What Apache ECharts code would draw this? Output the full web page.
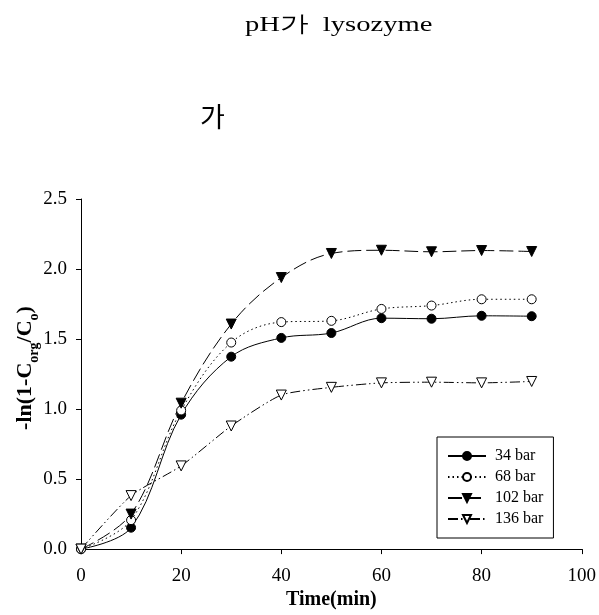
<!DOCTYPE html>
<html>
<head>
<meta charset="utf-8">
<script src="https://cdn.jsdelivr.net/npm/echarts@6/dist/echarts.min.js"></script>
<style>
  html, body { margin: 0; padding: 0; background: #fff; }
  #chart { width: 599px; height: 615px; }
</style>
</head>
<body>
<div id="chart"></div>
<script>
// 데이터
var times = [0, 10, 20, 30, 40, 50, 60, 70, 80, 90];
var bar34 = [0, 0.153, 0.96, 1.374, 1.508, 1.543, 1.649, 1.645, 1.666, 1.663];
var bar68 = [0, 0.207, 0.99, 1.475, 1.621, 1.63, 1.715, 1.739, 1.784, 1.784];
var bar102 = [0, 0.25, 1.042, 1.607, 1.939, 2.111, 2.134, 2.123, 2.132, 2.125];
var bar136 = [0, 0.382, 0.594, 0.879, 1.10, 1.155, 1.187, 1.192, 1.187, 1.197];
var seriesNames = ['34 bar', '68 bar', '102 bar', '136 bar'];

function pairs(ys) {
    return times.map(function (t, i) { return [t, ys[i]]; });
}

var serif = '"Liberation Serif", "Times New Roman", serif';
var chart = echarts.init(document.getElementById('chart'));

var option = {
    animation: false,
    backgroundColor: '#fff',
    legend: {
        orient: 'vertical',
        left: 437, top: 437,
        padding: [11, 10, 11, 10],
        borderColor: '#000', borderWidth: 1,
        itemWidth: 38, itemHeight: 10, itemGap: 5,
        textStyle: { fontFamily: serif, fontSize: 16, color: '#000', lineHeight: 16, padding: [0, 0, 0, 4] },
        data: seriesNames
    },
    grid: { left: 81, right: 16, top: 199, bottom: 62 },
    xAxis: {
        type: 'value', min: 0, max: 100, interval: 20,
        name: 'Time(min)', nameLocation: 'middle', nameGap: 37,
        nameTextStyle: { fontFamily: serif, fontSize: 20, fontWeight: 'bold', color: '#000' },
        axisLine: { lineStyle: { color: '#000' } },
        axisTick: { inside: false, length: 5, lineStyle: { color: '#000' } },
        axisLabel: { fontFamily: serif, fontSize: 19, color: '#000', margin: 17 },
        splitLine: { show: false }
    },
    yAxis: {
        type: 'value', min: 0, max: 2.5, interval: 0.5,
        axisLine: { show: true, lineStyle: { color: '#000' } },
        axisTick: { show: true, inside: false, length: 5, lineStyle: { color: '#000' } },
        axisLabel: {
            fontFamily: serif, fontSize: 19, color: '#000', margin: 14,
            formatter: function (v) { return v.toFixed(1); }
        },
        splitLine: { show: false }
    },
    graphic: [
        {
            type: 'text',
            x: 245, y: 14,
            scaleX: 1.3,
            style: {
                text: 'pH가  lysozyme',
                font: '22px ' + serif,
                fill: '#000',
                align: 'left',
                verticalAlign: 'top'
            }
        },
        {
            type: 'text',
            x: 200, y: 117,
            style: {
                text: '가',
                font: '27px "Noto Sans CJK KR", sans-serif',
                fill: '#000',
                align: 'left',
                verticalAlign: 'middle'
            }
        },
        {
            type: 'text',
            x: 25, y: 368,
            rotation: Math.PI / 2,
            style: {
                text: '-ln(1-C{sub|org}/C{sub|o})',
                font: 'bold 22px ' + serif,
                fill: '#000',
                align: 'center',
                verticalAlign: 'middle',
                rich: {
                    sub: { fontFamily: serif, fontSize: 14, fontWeight: 'bold', verticalAlign: 'bottom', padding: [0, 0, -5, 0] }
                }
            }
        }
    ],
    series: [
        {
            name: '34 bar', type: 'line', data: pairs(bar34), smooth: 0.35,
            symbol: 'circle', symbolSize: 9,
            itemStyle: { color: '#000', borderColor: '#000', borderWidth: 1 },
            lineStyle: { color: '#000', width: 1, type: 'solid' }
        },
        {
            name: '68 bar', type: 'line', data: pairs(bar68), smooth: 0.35,
            symbol: 'circle', symbolSize: 9,
            itemStyle: { color: '#fff', borderColor: '#000', borderWidth: 1 },
            lineStyle: { color: '#000', width: 1, type: [1.5, 3] }
        },
        {
            name: '102 bar', type: 'line', data: pairs(bar102), smooth: 0.35,
            symbol: 'triangle', symbolRotate: 180, symbolSize: 10,
            itemStyle: { color: '#000', borderColor: '#000', borderWidth: 1 },
            lineStyle: { color: '#000', width: 1, type: [14, 5] }
        },
        {
            name: '136 bar', type: 'line', data: pairs(bar136), smooth: 0.2,
            symbol: 'triangle', symbolRotate: 180, symbolSize: 10,
            itemStyle: { color: '#fff', borderColor: '#000', borderWidth: 1 },
            lineStyle: { color: '#000', width: 1, type: [10, 3, 1.5, 3, 1.5, 3] }
        }
    ]
};

chart.setOption(option);
</script>
</body>
</html>
